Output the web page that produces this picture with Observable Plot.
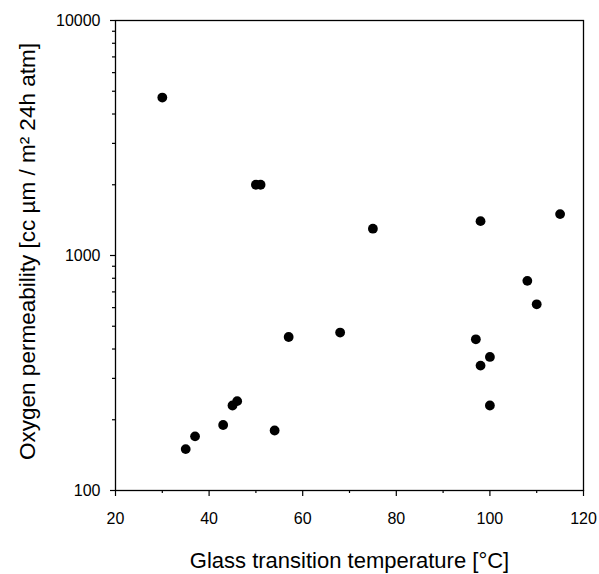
<!DOCTYPE html>
<html>
<head>
<meta charset="utf-8">
<script src="https://cdn.jsdelivr.net/npm/d3@7"></script>
<script src="https://cdn.jsdelivr.net/npm/@observablehq/plot@0.6"></script>
<style>
  html, body { margin: 0; padding: 0; background: #fff; }
</style>
</head>
<body>
<div id="chart"></div>
<script>
// Glass transition temperature [°C]
const tg = [30, 50, 51, 68, 75, 98, 115, 108, 110, 97, 100, 98, 100, 57, 46, 45, 43, 54, 37, 35];
// Oxygen permeability [cc µm / m² 24h atm]
const permeability = [4700, 2000, 2000, 470, 1300, 1400, 1500, 780, 620, 440, 370, 340, 230, 450, 240, 230, 190, 180, 170, 150];

const xMajorTicks = [20, 40, 60, 80, 100, 120];
const xMinorTicks = [30, 50, 70, 90, 110];
const yMajorTicks = [100, 1000, 10000];
const yMinorTicks = [200, 300, 400, 500, 600, 700, 800, 900, 2000, 3000, 4000, 5000, 6000, 7000, 8000, 9000];

const xTitle = "Glass transition temperature [°C]";
const yTitle = "Oxygen permeability [cc µm / m² 24h atm]";

const data = tg.map((t, i) => ({tg: t, p: permeability[i]}));

const chart = Plot.plot({
  width: 599,
  height: 574,
  marginLeft: 115,
  marginTop: 20,
  marginRight: 16,
  marginBottom: 84,
  style: {fontFamily: "'Liberation Sans', Arial, Helvetica, sans-serif", background: "#fff", color: "#000"},
  x: {domain: [20, 120]},
  y: {type: "log", domain: [100, 10000]},
  marks: [
    Plot.frame({stroke: "#000", strokeWidth: 1.3}),
    Plot.axisX(xMajorTicks, {tickSize: 6, tickFormat: () => "", label: null, strokeWidth: 1.2}),
    Plot.axisX(xMinorTicks, {tickSize: 3, tickFormat: () => "", label: null, strokeWidth: 1.2}),
    Plot.axisY(yMajorTicks, {tickSize: 5, tickFormat: () => "", label: null, strokeWidth: 1.2}),
    Plot.axisY(yMinorTicks, {tickSize: 3, tickFormat: () => "", label: null, strokeWidth: 1.2}),
    Plot.text(xMajorTicks, {x: d => d, frameAnchor: "bottom", dy: 22, lineAnchor: "top", textAnchor: "middle", text: d => String(d), fontSize: 16, fill: "#000"}),
    Plot.text(yMajorTicks, {y: d => d, frameAnchor: "left", dx: -15, lineAnchor: "middle", textAnchor: "end", text: d => String(d), fontSize: 16, fill: "#000"}),
    Plot.text([xTitle], {frameAnchor: "bottom", dy: 70, lineAnchor: "middle", textAnchor: "middle", fontSize: 22, fill: "#000"}),
    Plot.text([yTitle], {frameAnchor: "left", dx: -88, dy: -4, rotate: -90, lineAnchor: "middle", textAnchor: "middle", fontSize: 22.5, fill: "#000"}),
    Plot.dot(data, {x: "tg", y: "p", r: 4.9, fill: "#000", stroke: "none"})
  ]
});
document.getElementById("chart").appendChild(chart);
</script>
</body>
</html>
